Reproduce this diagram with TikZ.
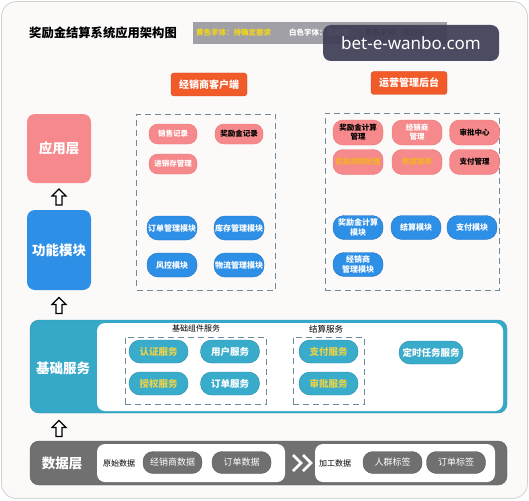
\documentclass[tikz,border=0pt]{standalone}
\usepackage{fontspec}
\setmainfont{Noto Sans CJK SC}
\newfontfamily\wmfont{Noto Sans}
\usetikzlibrary{calc}
\definecolor{bgc}{HTML}{FCF9F9}
\definecolor{framec}{HTML}{D2D2D2}
\definecolor{pinkf}{HTML}{F6898B}
\definecolor{pinkb}{HTML}{E87476}
\definecolor{bluef}{HTML}{2D8FE5}
\definecolor{blueb}{HTML}{1F74C4}
\definecolor{tealf}{HTML}{36A9C8}
\definecolor{tealp}{HTML}{3AACCB}
\definecolor{tealb}{HTML}{2A8CA8}
\definecolor{grayf}{HTML}{707070}
\definecolor{grayb}{HTML}{5C5C5C}
\definecolor{orangef}{HTML}{F15A29}
\definecolor{legendf}{HTML}{A0A0A6}
\definecolor{yellowt}{HTML}{F2D51E}
\definecolor{yellowp}{HTML}{F5B02A}
\definecolor{yellowb}{HTML}{E8D24A}
\definecolor{dashc}{HTML}{6F8A9A}
\definecolor{wmc}{HTML}{3D3D55}
\begin{document}
\begin{tikzpicture}[x=1pt,y=-1pt,
  layerbox/.style={rounded corners=8, minimum width=64, text=white, align=center,
    font=\fontsize{13.5}{15}\selectfont\bfseries},
  tagbtn/.style={fill=orangef, draw=orangef!85!black, rounded corners=3, minimum width=76, minimum height=23,
    text=white, font=\fontsize{10}{12}\selectfont\bfseries},
  pinkpill/.style={draw=pinkb, fill=pinkf, rounded corners=9, minimum width=48, minimum height=20,
    inner sep=1, align=center, font=\fontsize{7.5}{9}\selectfont\bfseries},
  pinktwo/.style={pinkpill, minimum width=50, minimum height=25, rounded corners=10},
  bluepill/.style={draw=blueb, fill=bluef, rounded corners=11, minimum width=50, minimum height=24,
    inner sep=1, align=center, text=white, font=\fontsize{8}{9.5}\selectfont\bfseries},
  tealpill/.style={draw=tealb, fill=tealp, rounded corners=11, minimum width=59, minimum height=23,
    inner sep=1, text=white, font=\fontsize{9.5}{11}\selectfont\bfseries},
  graypill/.style={draw=grayb, fill=grayf, rounded corners=10, minimum width=59, minimum height=22,
    inner sep=1, text=white, font=\fontsize{9}{11}\selectfont},
  dashbox/.style={draw=dashc, line width=0.8pt, dash pattern=on 6pt off 4pt},
  smalllabel/.style={inner sep=1, font=\fontsize{8}{10}\selectfont},
  uparrow/.pic={\draw[line width=1.2pt, fill=white, line join=miter]
     (0,-8) -- (7,-1) -- (3,-1) -- (3,8) -- (-3,8) -- (-3,-1) -- (-7,-1) -- cycle;}
]
\useasboundingbox (0,0) rectangle (529,500);
% outer frame
\draw[rounded corners=15, draw=framec, line width=0.8pt, fill=bgc] (1.5,1.5) rectangle (527.5,498.5);

% title and legend
\node[anchor=west, inner sep=0, font=\fontsize{12.3}{14}\selectfont\bfseries] (title) at (29,33) {奖励金结算系统应用架构图};
\node[fill=legendf, minimum width=254, minimum height=22, inner sep=0] (legend) at (320,33) {};
\node[anchor=west, inner sep=0, text=yellowt, font=\fontsize{7.5}{9}\selectfont\bfseries] (lgy) at (196,33) {黄色字体：待确定需求};
\node[anchor=west, inner sep=0, text=white, font=\fontsize{7.5}{9}\selectfont\bfseries] (lgw) at (289,33) {白色字体：已完成};
\node[anchor=west, inner sep=0, text=black, font=\fontsize{7.5}{9}\selectfont] (lgb) at (365,33) {黑色字体：规划中};

% client labels
\node[tagbtn] (client) at (209,84.5) {经销商客户端};
\node[tagbtn] (admin) at (409,83) {运营管理后台};

% left column layers
\node[layerbox, fill=pinkf, minimum height=69] (app) at (59,148.5) {应用层};
\node[layerbox, fill=bluef, minimum height=80] (func) at (59,250) {功能模块};

% dashed regions
\node[dashbox, minimum width=139, minimum height=176] (leftreg) at (206,202) {};
\node[dashbox, minimum width=174, minimum height=177] (rightreg) at (412,201.5) {};

% left app pills
\node[pinkpill, text=white] (p1) at (173,134) {销售记录};
\node[pinkpill, text=black] (p2) at (239,134) {奖励金记录};
\node[pinkpill, text=white] (p3) at (173,164) {进销存管理};
% left function pills
\node[bluepill] (b1) at (172,228) {订单管理模块};
\node[bluepill] (b2) at (239,228) {库存管理模块};
\node[bluepill] (b3) at (172,265) {风控模块};
\node[bluepill] (b4) at (239,265) {物流管理模块};

% right app pills
\node[pinktwo, text=black] (r1) at (358,132.5) {奖励金计算\\管理};
\node[pinktwo, text=white] (r2) at (417,132.5) {经销商\\管理};
\node[pinktwo, text=black] (r3) at (474.5,132.5) {审批中心};
\node[pinktwo, text=yellowp] (r4) at (358,162) {奖励规则配置};
\node[pinktwo, text=yellowp] (r5) at (417,162) {数据报表};
\node[pinktwo, text=black] (r6) at (474.5,162) {支付管理};
% right function pills
\node[bluepill] (s1) at (358,227.5) {奖励金计算\\模块};
\node[bluepill] (s2) at (416,227.5) {结算模块};
\node[bluepill] (s3) at (472,227.5) {支付模块};
\node[bluepill] (s4) at (358,264.5) {经销商\\管理模块};

% base services
\node[fill=tealf, draw=tealf!85!black, rounded corners=9, minimum width=477, minimum height=93] (base) at (268.5,366.5) {};
\node[fill=white, rounded corners=8, minimum width=406, minimum height=88] (baseinner) at (300,367) {};
\node[text=white, font=\fontsize{13.5}{15}\selectfont\bfseries] (basetxt) at (63,368) {基础服务};
\node[smalllabel] (comptitle) at (196,328) {基础组件服务};
\node[dashbox, minimum width=141, minimum height=67] (compbox) at (195.5,370.5) {};
\node[tealpill, text=yellowb] (t1) at (158.5,351.5) {认证服务};
\node[tealpill] (t2) at (230,351.5) {用户服务};
\node[tealpill, text=yellowb] (t3) at (158.5,383.5) {授权服务};
\node[tealpill] (t4) at (230,383.5) {订单服务};
\node[smalllabel, font=\fontsize{8.5}{10}\selectfont] (settitle) at (326,329) {结算服务};
\node[dashbox, minimum width=71, minimum height=67] (setbox) at (328.5,370.5) {};
\node[tealpill, text=yellowb] (t5) at (328.5,351.5) {支付服务};
\node[tealpill, text=yellowb] (t6) at (328.5,383.5) {审批服务};
\node[tealpill, minimum width=64] (t7) at (431,352.5) {定时任务服务};

% data layer
\node[fill=grayf, draw=grayb, rounded corners=9, minimum width=477, minimum height=44] (data) at (268.5,463) {};
\node[text=white, font=\fontsize{13.5}{15}\selectfont\bfseries] (datatxt) at (62,463) {数据层};
\node[fill=white, rounded corners=8, minimum width=188, minimum height=38] (raw) at (191,463) {};
\node[fill=white, rounded corners=8, minimum width=180, minimum height=38] (proc) at (405,463) {};
\node[smalllabel] (rawtxt) at (119,463) {原始数据};
\node[graypill] (d1) at (172.5,462.5) {经销商数据};
\node[graypill] (d2) at (241.5,462.5) {订单数据};
\node[smalllabel] (proctxt) at (335,463) {加工数据};
\node[graypill] (d3) at (392.5,462.5) {人群标签};
\node[graypill] (d4) at (456,462.5) {订单标签};
\coordinate (chev) at (302,463);
\draw[white, line width=2.6pt, line join=miter] ($(chev)+(-9,-8)$) -- ($(chev)+(-1,0)$) -- ($(chev)+(-9,8)$);
\draw[white, line width=2.6pt, line join=miter] ($(chev)+(1,-8)$) -- ($(chev)+(9,0)$) -- ($(chev)+(1,8)$);

% hollow up arrows between layers
\coordinate (a1) at ($(app.south)!0.5!(func.north)+(0,0.5)$);
\coordinate (a2) at ($(func.south)!0.5!(func.south |- base.north)+(0,0.5)$);
\coordinate (a3) at ($(func.south |- base.south)!0.5!(func.south |- data.north)+(0,1.5)$);
\pic at (a1) {uparrow};
\pic at (a2) {uparrow};
\pic at (a3) {uparrow};

% watermark overlay
\node[fill=wmc, fill opacity=0.92, text opacity=1, rounded corners=8, minimum width=176, minimum height=36,
  text=white, font=\wmfont\fontsize{17}{20}\selectfont] (wm) at (411,43) {bet-e-wanbo.com};
\end{tikzpicture}
\end{document}
